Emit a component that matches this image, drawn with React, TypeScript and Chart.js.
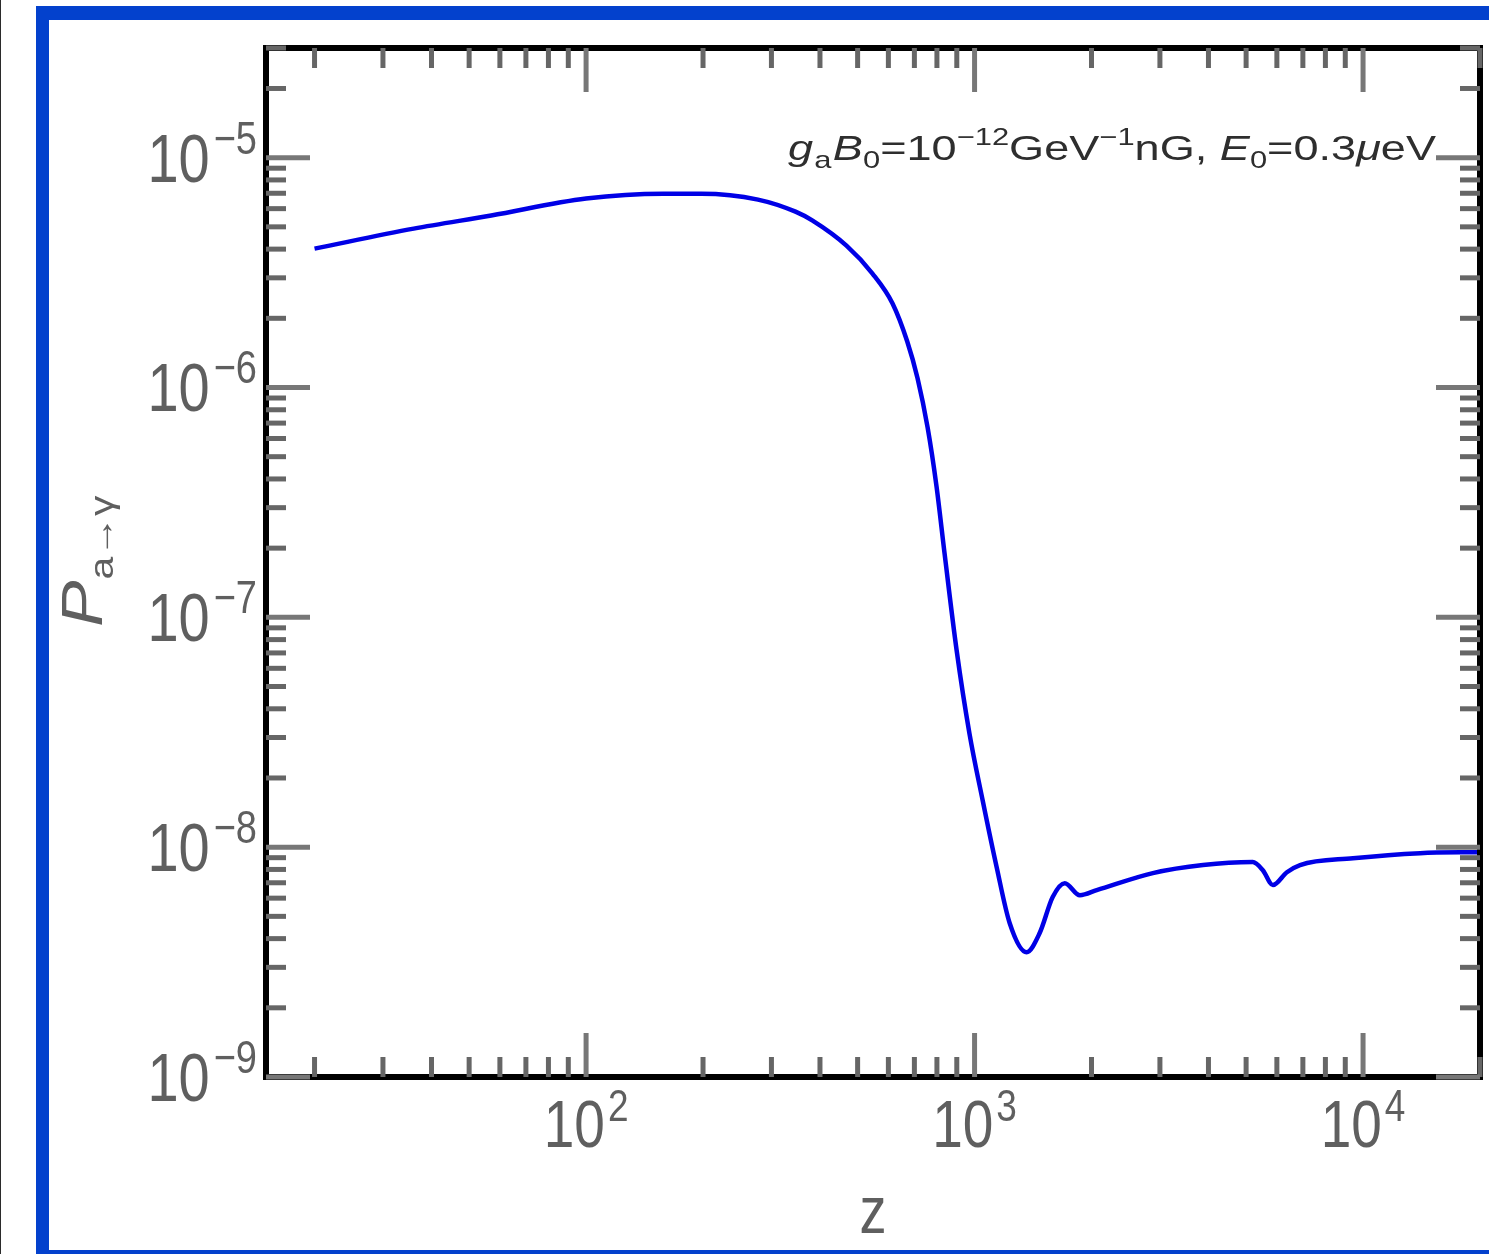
import React, { useEffect, useRef } from "react";
import { Chart, registerables } from "chart.js";

Chart.register(...registerables);

// ---- data ----
const zValues = [20, 36, 57, 100, 158, 198, 277, 346, 382, 468, 546, 615, 671, 713, 757, 798, 837, 899, 970, 1049, 1140, 1231, 1361, 1471, 1589, 1707, 1866, 2063, 2877, 3873, 5200, 5521, 5861, 6368, 6884, 9420, 14030, 20000];
const pValues = [4.02e-6, 4.91e-6, 5.6e-6, 6.64e-6, 6.97e-6, 6.97e-6, 6.57e-6, 5.82e-6, 5.33e-6, 4.14e-6, 3.13e-6, 2.32e-6, 1.585e-6, 1.1e-6, 6.7e-7, 3.72e-7, 1.9e-7, 7.2e-8, 3.13e-8, 1.6e-8, 8.18e-9, 4.68e-9, 3.49e-9, 4.23e-9, 6.07e-9, 6.97e-9, 6.18e-9, 6.5e-9, 7.71e-9, 8.36e-9, 8.61e-9, 7.94e-9, 6.84e-9, 7.78e-9, 8.36e-9, 8.95e-9, 9.42e-9, 9.51e-9];

const xMajorTicks = [100, 1000, 10000];
const xMajorExponents = ["2", "3", "4"];
const xMinorTicks = [20, 30, 40, 50, 60, 70, 80, 90, 200, 300, 400, 500, 600, 700, 800, 900, 2000, 3000, 4000, 5000, 6000, 7000, 8000, 9000, 20000];
const yMajorTicks = [1e-9, 1e-8, 1e-7, 1e-6, 1e-5];
const yMajorExponents = ["\u22129", "\u22128", "\u22127", "\u22126", "\u22125"];
const yMinorMultipliers = [2, 3, 4, 5, 6, 7, 8, 9];
const yMinorDecades = [1e-9, 1e-8, 1e-7, 1e-6];
const yMinorExtra = [2e-5, 3e-5];

const X_MIN = 15;
const X_MAX = 20000;
const Y_MIN = 1e-9;
const Y_MAX = 3e-5;

const xTitle = "z";
const yTitleMain = "P";
const yTitleSub = "a\u2192\u03b3";

const FONT = '"Liberation Sans", Arial, sans-serif';
const LABEL_COLOR = "#5f5f5f";
const TICK_COLOR = "#666666";
const MAJOR_TICK_COLOR = "#777777";

type Part = { t: string; size: number; style?: string; dy: number; gap?: number; color?: string };

function fontOf(p: Part) {
  return `${p.style || ""} ${p.size}px ${FONT}`;
}

function partsWidth(ctx: CanvasRenderingContext2D, parts: Part[]) {
  let w = 0;
  for (const p of parts) {
    ctx.font = fontOf(p);
    w += ctx.measureText(p.t).width + (p.gap || 0);
  }
  return w;
}

function drawParts(ctx: CanvasRenderingContext2D, parts: Part[], x: number, y: number, sx: number, sy: number, color: string) {
  ctx.save();
  ctx.translate(x, y);
  ctx.scale(sx, sy);
  ctx.textBaseline = "alphabetic";
  ctx.textAlign = "left";
  let cx = 0;
  for (const p of parts) {
    ctx.font = fontOf(p);
    ctx.fillStyle = p.color || color;
    ctx.fillText(p.t, cx, p.dy / sy);
    cx += ctx.measureText(p.t).width + (p.gap || 0);
  }
  ctx.restore();
}

const framePlugin = {
  id: "mmaFrame",
  afterDatasetsDraw(chart: any) {
    const ctx: CanvasRenderingContext2D = chart.ctx;
    const { left, right, top, bottom } = chart.chartArea;
    const xs = chart.scales.x;
    const ys = chart.scales.y;

    ctx.save();
    ctx.strokeStyle = "#000";
    ctx.lineWidth = 6;
    ctx.strokeRect(left, top, right - left, bottom - top);

    const tick = (x1: number, y1: number, x2: number, y2: number, w: number, c: string) => {
      ctx.beginPath();
      ctx.strokeStyle = c;
      ctx.lineWidth = w;
      ctx.moveTo(x1, y1);
      ctx.lineTo(x2, y2);
      ctx.stroke();
    };
    const MINOR = 20;
    const MAJOR = 44;
    for (const v of xMinorTicks) {
      const px = xs.getPixelForValue(v);
      tick(px, bottom, px, bottom - MINOR, 5, TICK_COLOR);
      tick(px, top, px, top + MINOR, 5, TICK_COLOR);
    }
    for (const v of xMajorTicks) {
      const px = xs.getPixelForValue(v);
      tick(px, bottom, px, bottom - MAJOR, 5, MAJOR_TICK_COLOR);
      tick(px, top, px, top + MAJOR, 5, MAJOR_TICK_COLOR);
    }
    const yMinor: number[] = [];
    for (const d of yMinorDecades) for (const m of yMinorMultipliers) yMinor.push(m * d);
    for (const v of yMinorExtra) yMinor.push(v);
    for (const v of yMinor) {
      const py = ys.getPixelForValue(v);
      tick(left, py, left + MINOR, py, 5, TICK_COLOR);
      tick(right, py, right - MINOR, py, 5, TICK_COLOR);
    }
    for (const v of yMajorTicks) {
      const py = ys.getPixelForValue(v);
      tick(left, py, left + MAJOR, py, 5, MAJOR_TICK_COLOR);
      tick(right, py, right - MAJOR, py, 5, MAJOR_TICK_COLOR);
    }

    const SY = 1.22;
    yMajorTicks.forEach((v, i) => {
      const py = ys.getPixelForValue(v);
      const parts: Part[] = [
        { t: "10", size: 56, dy: 0, gap: 4 },
        { t: yMajorExponents[i], size: 38, dy: -28 },
      ];
      const w = partsWidth(ctx, parts);
      drawParts(ctx, parts, 257 - w, py + 24, 1, SY, LABEL_COLOR);
    });

    xMajorTicks.forEach((v, i) => {
      const px = xs.getPixelForValue(v);
      const parts: Part[] = [
        { t: "10", size: 55, dy: 0, gap: 3 },
        { t: xMajorExponents[i], size: 37, dy: -26 },
      ];
      const w = partsWidth(ctx, parts);
      drawParts(ctx, parts, px - w / 2, 1147, 1, SY, LABEL_COLOR);
    });

    {
      const parts: Part[] = [{ t: xTitle, size: 54, dy: 0 }];
      const w = partsWidth(ctx, parts);
      drawParts(ctx, parts, (left + right) / 2 - w / 2, 1233, 1, SY, LABEL_COLOR);
    }

    {
      ctx.save();
      ctx.translate(102, 627);
      ctx.rotate(-Math.PI / 2);
      const parts: Part[] = [
        { t: yTitleMain, size: 58, style: "italic", dy: 0, gap: 1 },
        { t: yTitleSub, size: 34, dy: 11 },
      ];
      drawParts(ctx, parts, 0, 0, 1.2, 1, LABEL_COLOR);
      ctx.restore();
    }

    {
      const parts: Part[] = [
        { t: "g", size: 35, style: "italic", dy: 0, gap: 1 },
        { t: "a", size: 24, dy: 8, gap: 1 },
        { t: "B", size: 35, style: "italic", dy: 0 },
        { t: "0", size: 24, dy: 8 },
        { t: "=10", size: 35, dy: 0 },
        { t: "\u221212", size: 24, dy: -15 },
        { t: "GeV", size: 35, dy: 0 },
        { t: "\u22121", size: 24, dy: -15 },
        { t: "nG, ", size: 35, dy: 0 },
        { t: "E", size: 35, style: "italic", dy: 0 },
        { t: "0", size: 24, dy: 8 },
        { t: "=0.3", size: 35, dy: 0 },
        { t: "\u03bc", size: 35, style: "italic", dy: 0 },
        { t: "eV", size: 35, dy: 0 },
      ];
      const w = partsWidth(ctx, parts);
      const target = 1436 - 788;
      drawParts(ctx, parts, 788, 160, target / w, 1, "#2e2e2e");
    }
    ctx.restore();
  },
};

export default function App() {
  const ref = useRef<HTMLCanvasElement | null>(null);

  useEffect(() => {
    const canvas = ref.current;
    if (!canvas) return;
    const points = zValues.map((z, i) => ({ x: z, y: pValues[i] }));
    const chart = new Chart(canvas, {
      type: "line",
      data: {
        datasets: [
          {
            data: points,
            borderColor: "#0000e6",
            borderWidth: 4.5,
            pointRadius: 0,
            fill: false,
            cubicInterpolationMode: "monotone",
          },
        ],
      },
      options: {
        animation: false,
        responsive: false,
        maintainAspectRatio: false,
        layout: { padding: { left: 0, top: 48, right: 9, bottom: 0 } },
        plugins: { legend: { display: false }, tooltip: { enabled: false }, title: { display: false } },
        scales: {
          x: {
            type: "logarithmic",
            min: X_MIN,
            max: X_MAX,
            grid: { display: false },
            border: { display: false },
            ticks: { display: false },
            afterFit: (s: any) => {
              s.height = 177;
            },
          },
          y: {
            type: "logarithmic",
            min: Y_MIN,
            max: Y_MAX,
            grid: { display: false },
            border: { display: false },
            ticks: { display: false },
            afterFit: (s: any) => {
              s.width = 266;
            },
          },
        },
      } as any,
      plugins: [framePlugin as any],
    });
    return () => chart.destroy();
  }, []);

  const blue = "#0341cd";
  return (
    <div style={{ position: "absolute", left: 0, top: 0, width: 1489, height: 1254, background: "#fff", overflow: "hidden" }}>
      <canvas ref={ref} width={1489} height={1254} style={{ position: "absolute", left: 0, top: 0, width: 1489, height: 1254 }} />
      <div style={{ position: "absolute", left: 0, top: 0, width: 1, height: 1254, background: "#2b2b2b" }} />
      <div style={{ position: "absolute", left: 36, top: 6, width: 1453, height: 14, background: blue }} />
      <div style={{ position: "absolute", left: 36, top: 6, width: 13, height: 1248, background: blue }} />
      <div style={{ position: "absolute", left: 36, top: 1250, width: 1453, height: 4, background: blue }} />
    </div>
  );
}
